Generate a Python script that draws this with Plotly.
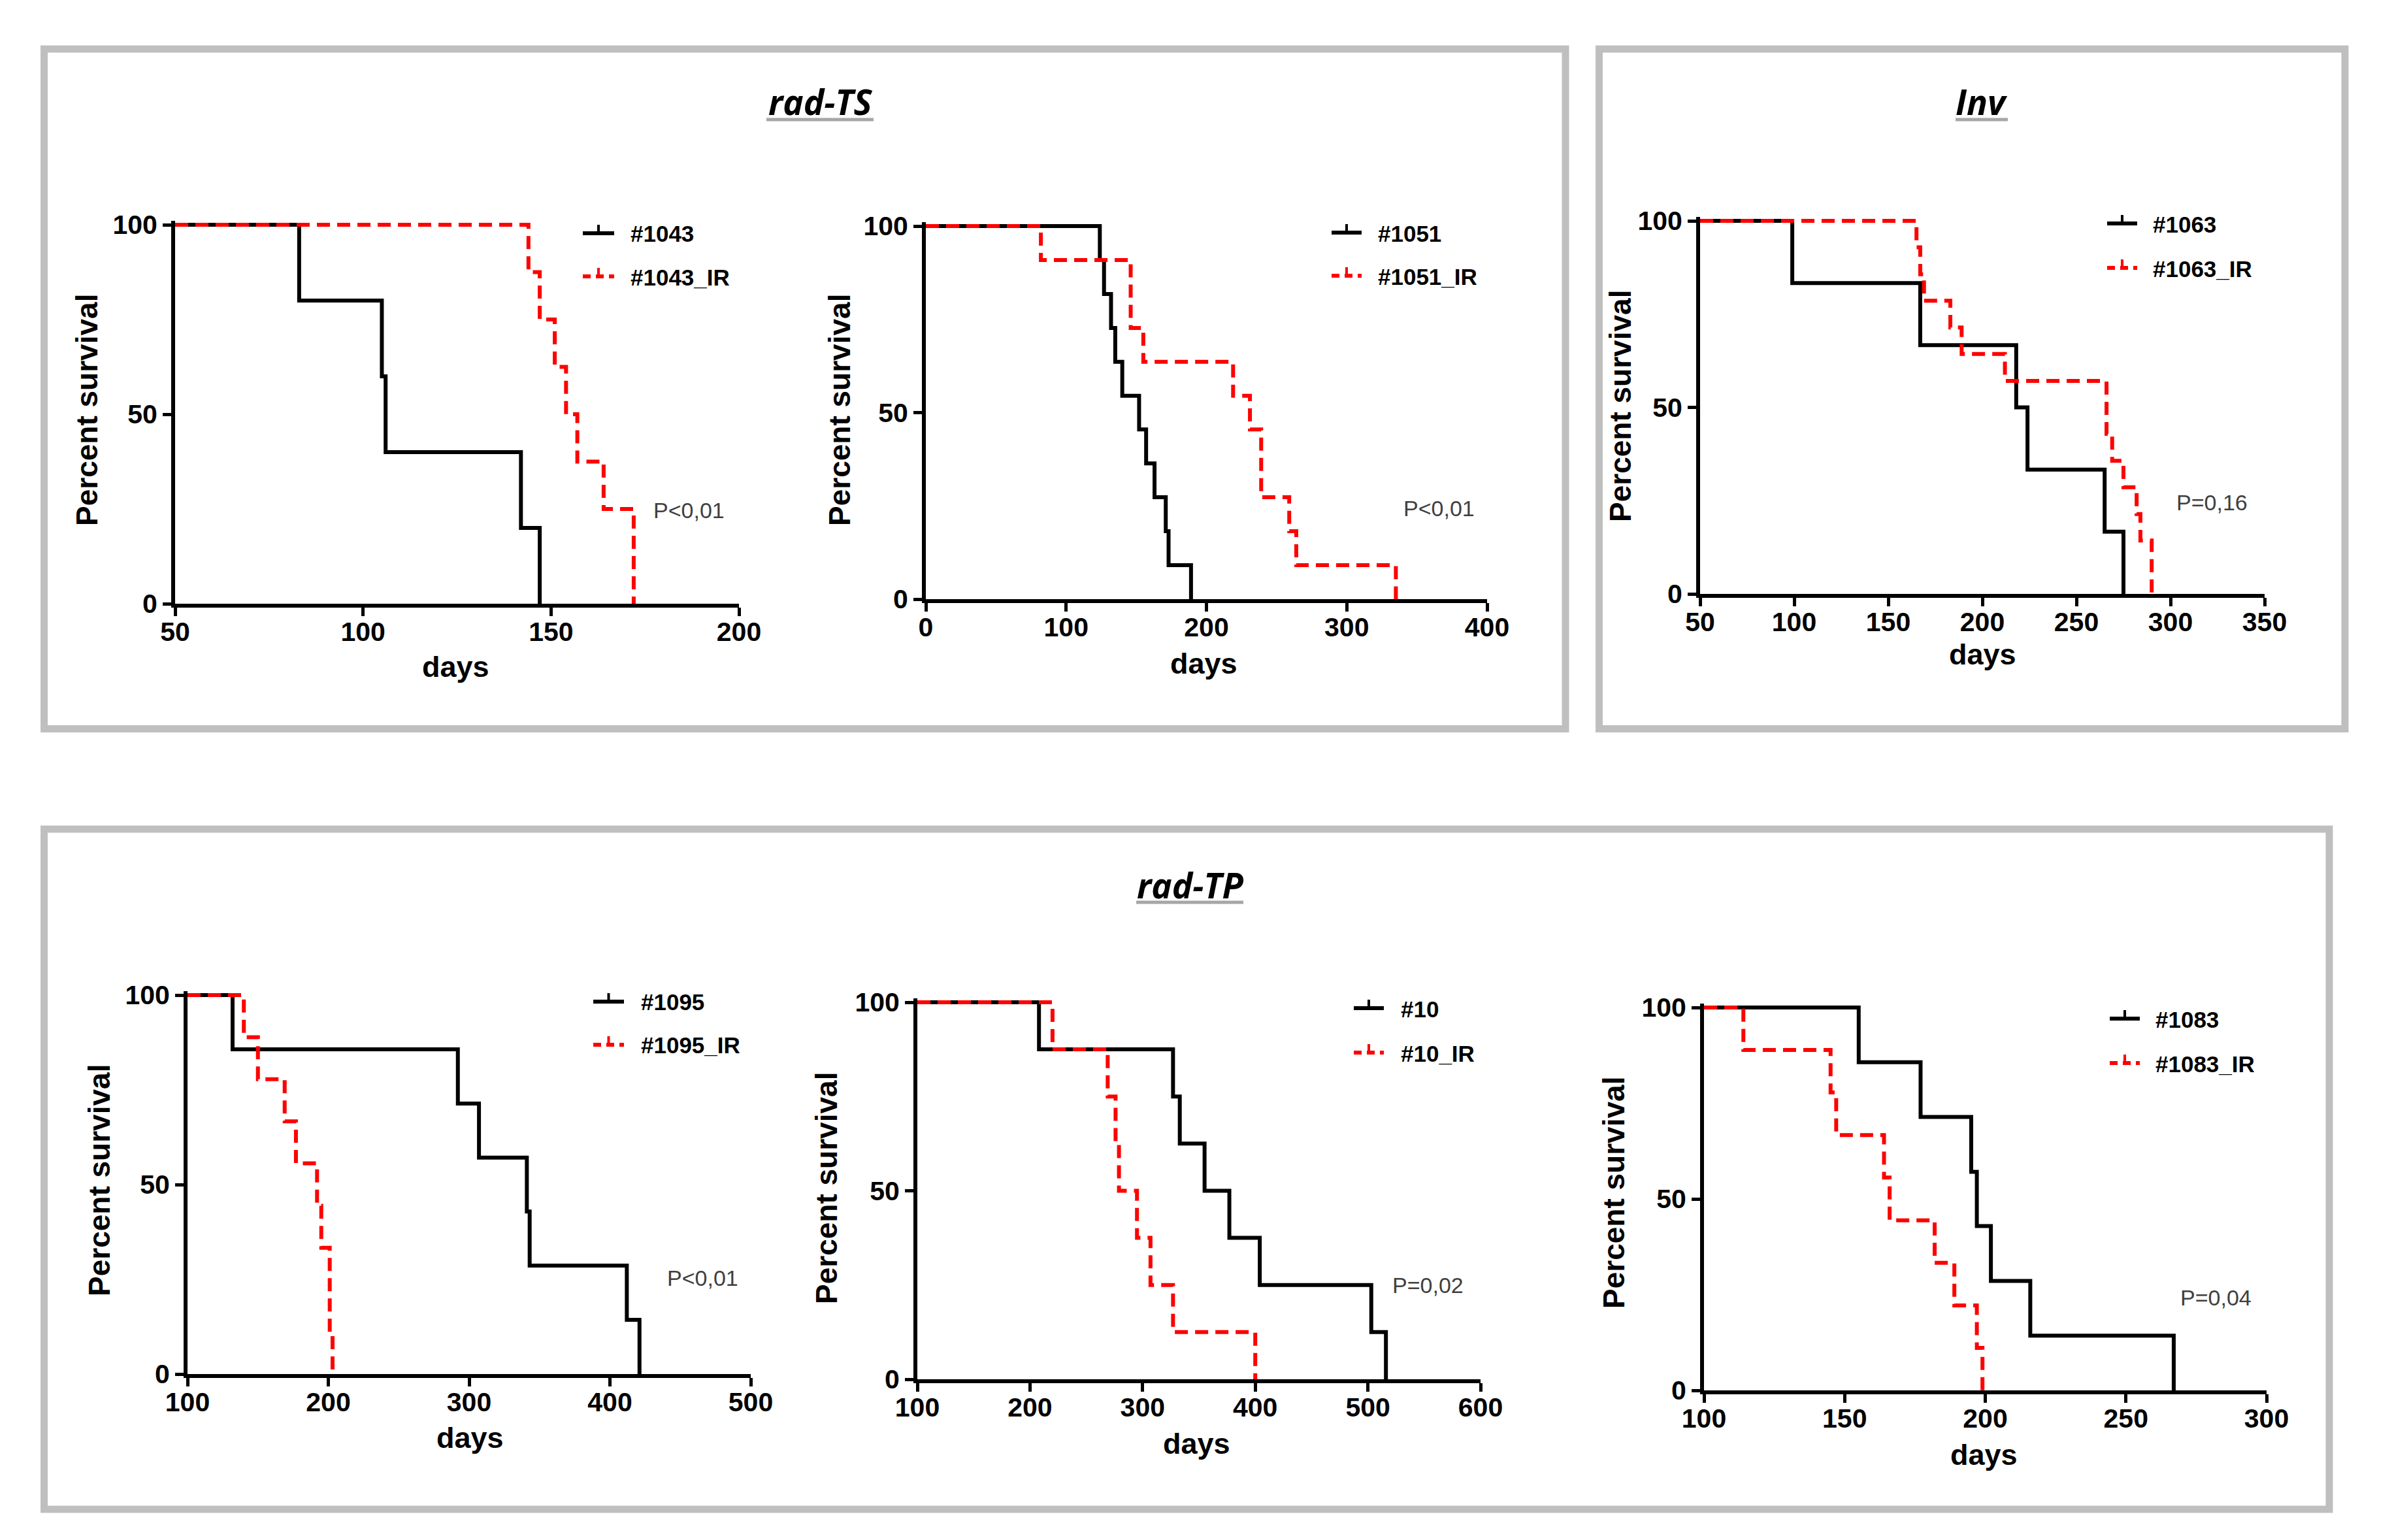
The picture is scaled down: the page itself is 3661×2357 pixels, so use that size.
import plotly.graph_objects as go

# ---------------- data ----------------
# Panel rad-TS #1043
t_1043 = [83, 105, 106, 142, 147]
s_1043 = [80, 60, 40, 20, 0]
t_1043_IR = [144, 147, 151, 154, 157, 164, 172]
s_1043_IR = [87.5, 75, 62.5, 50, 37.5, 25, 0]

# Panel rad-TS #1051
t_1051 = [124, 127, 132, 135, 140, 152, 157, 163, 171, 173, 189]
s_1051 = [90.9, 81.8, 72.7, 63.6, 54.5, 45.5, 36.4, 27.3, 18.2, 9.1, 0]
t_1051_IR = [82, 146, 155, 219, 231, 239, 259, 264, 335]
s_1051_IR = [90.9, 72.7, 63.6, 54.5, 45.5, 27.3, 18.2, 9.1, 0]

# Panel Inv #1063
t_1063 = [99, 167, 218, 224, 265, 275]
s_1063 = [83.3, 66.7, 50, 33.3, 16.7, 0]
t_1063_IR = [165, 167, 169, 183, 189, 212, 266, 269, 275, 282, 284, 290]
s_1063_IR = [92.9, 85.7, 78.6, 71.4, 64.3, 57.1, 42.9, 35.7, 28.6, 21.4, 14.3, 0]

# Panel rad-TP #1095
t_1095 = [132, 292, 307, 341, 343, 412, 421]
s_1095 = [85.7, 71.4, 57.1, 42.9, 28.6, 14.3, 0]
t_1095_IR = [140, 150, 169, 177, 192, 195, 201, 203]
s_1095_IR = [88.9, 77.8, 66.7, 55.6, 44.4, 33.3, 11.1, 0]

# Panel rad-TP #10
t_10 = [208, 327, 333, 355, 377, 404, 503, 516]
s_10 = [87.5, 75, 62.5, 50, 37.5, 25, 12.5, 0]
t_10_IR = [220, 269, 276, 279, 295, 307, 327, 400]
s_10_IR = [87.5, 75, 62.5, 50, 37.5, 25, 12.5, 0]

# Panel rad-TP #1083
t_1083 = [155, 177, 195, 197, 202, 216, 267]
s_1083 = [85.7, 71.4, 57.1, 42.9, 28.6, 14.3, 0]
t_1083_IR = [114, 145, 147, 164, 166, 182, 189, 197, 199]
s_1083_IR = [88.9, 77.8, 66.7, 55.6, 44.4, 33.3, 22.2, 11.1, 0]

# axis ranges / tick labels
xr_1043 = [50, 200]; xt_1043 = [50, 100, 150, 200]
xr_1051 = [0, 400]; xt_1051 = [0, 100, 200, 300, 400]
xr_1063 = [50, 350]; xt_1063 = [50, 100, 150, 200, 250, 300, 350]
xr_1095 = [100, 500]; xt_1095 = [100, 200, 300, 400, 500]
xr_10 = [100, 600]; xt_10 = [100, 200, 300, 400, 500, 600]
xr_1083 = [100, 300]; xt_1083 = [100, 150, 200, 250, 300]
yt = [0, 50, 100]

labels = [("#1043", "#1043_IR"), ("#1051", "#1051_IR"), ("#1063", "#1063_IR"),
          ("#1095", "#1095_IR"), ("#10", "#10_IR"), ("#1083", "#1083_IR")]
pvals = ["P<0,01", "P<0,01", "P=0,16", "P<0,01", "P=0,02", "P=0,04"]
group_titles = ["rad-TS", "Inv", "rad-TP"]

series = [
    (t_1043, s_1043, t_1043_IR, s_1043_IR, xr_1043, xt_1043),
    (t_1051, s_1051, t_1051_IR, s_1051_IR, xr_1051, xt_1051),
    (t_1063, s_1063, t_1063_IR, s_1063_IR, xr_1063, xt_1063),
    (t_1095, s_1095, t_1095_IR, s_1095_IR, xr_1095, xt_1095),
    (t_10, s_10, t_10_IR, s_10_IR, xr_10, xt_10),
    (t_1083, s_1083, t_1083_IR, s_1083_IR, xr_1083, xt_1083),
]

# ---------------- layout geometry (pixels) ----------------
W, H = 3661, 2357
def fx(p): return p / W
def fy(p): return 1 - p / H

# plot area: x-left, x-right, y(0%), y(100%)
areas = [
    (268, 1131, 924, 344),
    (1417, 2276, 917, 346),
    (2602, 3466, 909, 338),
    (287, 1149, 2103, 1523),
    (1404, 2266, 2111, 1534),
    (2608, 3469, 2128, 1542),
]
# legend: line x0, x1, y black, y red, text x
legpos = [
    (892, 940, 357, 423, 963),
    (2038, 2084, 356, 422, 2107),
    (3225, 3271, 342, 410, 3293),
    (908, 955, 1533, 1599, 979),
    (2072, 2118, 1543, 1611, 2142),
    (3229, 3275, 1559, 1627, 3297),
]
ppos = [(998, 781), (2146, 778), (3329, 769), (1019, 1956), (2129, 1967), (3335, 1986)]
ytpos = [(133, 628), (1285, 628), (2480, 622), (152, 1807), (1265, 1819), (2470, 1826)]
xtpos = [(697, 1020), (1842, 1015), (3034, 1002), (719, 2200), (1831, 2209), (3036, 2226)]

FONT = "Liberation Sans, Arial, sans-serif"
RED = "#ff0000"
DASH = "20px,11px"
YTOP = 101

fig = go.Figure()
layout = dict(width=W, height=H, margin=dict(l=0, r=0, t=0, b=0, pad=0, autoexpand=False),
              paper_bgcolor="white", plot_bgcolor="white", showlegend=False)
annotations = []
shapes = []

for i, (tb, sb, tr, sr, xr, xt) in enumerate(series):
    n = "" if i == 0 else str(i + 1)
    xl, xrpx, y0, y100 = areas[i]
    ytoppx = y100 - (y0 - y100) * (YTOP - 100) / 100
    fig.add_trace(go.Scatter(x=[xr[0]] + tb, y=[100] + sb, mode="lines", line_shape="hv",
                             line=dict(color="black", width=6), name=labels[i][0],
                             xaxis="x" + n, yaxis="y" + n))
    fig.add_trace(go.Scatter(x=[xr[0]] + tr, y=[100] + sr, mode="lines", line_shape="hv",
                             line=dict(color=RED, width=6, dash=DASH), name=labels[i][1],
                             xaxis="x" + n, yaxis="y" + n))
    common = dict(showline=True, linewidth=6, linecolor="black", ticks="outside",
                  ticklen=13, tickwidth=5, tickcolor="black", showgrid=False,
                  zeroline=False, automargin=False,
                  tickfont=dict(family=FONT, size=41, color="black", weight="bold"))
    layout["xaxis" + n] = dict(domain=[fx(xl), fx(xrpx)], range=xr, tickvals=xt,
                               anchor="y" + n, ticklabelstandoff=-11, **common)
    layout["yaxis" + n] = dict(domain=[fy(y0), fy(ytoppx)], range=[0, YTOP], tickvals=yt,
                               anchor="x" + n, **common)
    # axis titles
    annotations.append(dict(text="Percent survival", x=fx(ytpos[i][0]), y=fy(ytpos[i][1]),
                            xref="paper", yref="paper", textangle=-90, showarrow=False,
                            xanchor="center", yanchor="middle",
                            font=dict(family=FONT, size=46, color="black", weight="bold")))
    annotations.append(dict(text="days", x=fx(xtpos[i][0]), y=fy(xtpos[i][1]),
                            xref="paper", yref="paper", showarrow=False,
                            xanchor="center", yanchor="middle",
                            font=dict(family=FONT, size=45, color="black", weight="bold")))
    # p value
    annotations.append(dict(text=pvals[i], x=fx(ppos[i][0]), y=fy(ppos[i][1]),
                            xref="paper", yref="paper", showarrow=False,
                            xanchor="left", yanchor="middle",
                            font=dict(family=FONT, size=34, color="#404040")))
    # legend
    lx0, lx1, lyb, lyr, ltx = legpos[i]
    mid = (lx0 + lx1) / 2
    for (ly, col, dash, lab) in [(lyb, "black", "solid", labels[i][0]), (lyr, RED, "12px,8px", labels[i][1])]:
        shapes.append(dict(type="line", xref="paper", yref="paper", x0=fx(lx0), x1=fx(lx1),
                           y0=fy(ly), y1=fy(ly), line=dict(color=col, width=6, dash=dash)))
        shapes.append(dict(type="line", xref="paper", yref="paper", x0=fx(mid), x1=fx(mid),
                           y0=fy(ly), y1=fy(ly - 13), line=dict(color=col, width=4)))
        annotations.append(dict(text=lab, x=fx(ltx), y=fy(ly + 1), xref="paper", yref="paper",
                                showarrow=False, xanchor="left", yanchor="middle",
                                font=dict(family=FONT, size=35, color="black", weight="bold")))

# group boxes
BOX = "#bfbfbf"
for (x0, y0b, x1, y1b) in [(67.5, 75, 2396, 1115.5), (2447.5, 75, 3589, 1115.5), (67.5, 1269, 3565, 2310)]:
    shapes.append(dict(type="rect", xref="paper", yref="paper", x0=fx(x0), x1=fx(x1),
                       y0=fy(y1b), y1=fy(y0b), line=dict(color=BOX, width=11), layer="below"))

# group titles with grey underline
for (txt, cx, cy, ux0, ux1, uy) in [(group_titles[0], 1255, 156, 1173, 1337, 183),
                                     (group_titles[1], 3033, 156, 2993, 3073, 183),
                                     (group_titles[2], 1821, 1354, 1739, 1903, 1381)]:
    annotations.append(dict(text="<b><i>" + txt + "</i></b>", x=fx(cx), y=fy(cy), xref="paper",
                            yref="paper", showarrow=False, xanchor="center", yanchor="middle",
                            font=dict(family="Open Sans, sans-serif", size=53, color="black")))
    shapes.append(dict(type="line", xref="paper", yref="paper", x0=fx(ux0), x1=fx(ux1),
                       y0=fy(uy), y1=fy(uy), line=dict(color="#a6a6a6", width=5)))

layout["annotations"] = annotations
layout["shapes"] = shapes
fig.update_layout(**layout)
fig.write_html("out.html", config={"displayModeBar": False},
               post_script="document.body.style.margin='0';document.body.style.overflow='hidden';")
